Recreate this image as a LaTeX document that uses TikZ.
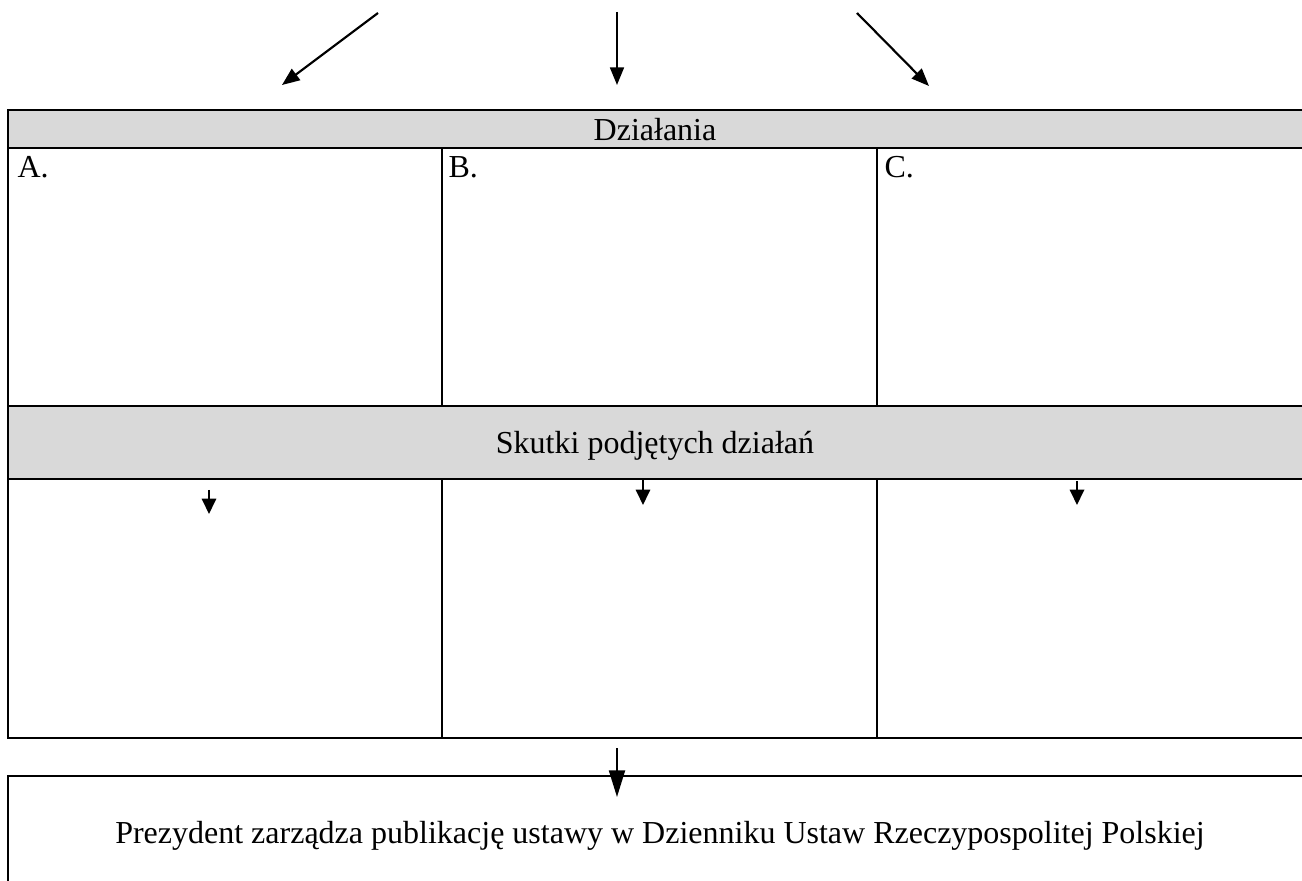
\documentclass[tikz,border=0pt]{standalone}
\usepackage{fontspec}
\setmainfont{Liberation Serif}
\usetikzlibrary{arrows.meta}
\definecolor{hdrgray}{HTML}{D9D9D9}
\newcommand\pxu[1]{#1*0.375pt}
\tikzset{
  box/.style={draw=black, line width=0.95pt, anchor=north west, inner sep=0pt, outer sep=0pt},
  hdr/.style={box, fill=hdrgray},
  txt/.style={anchor=base, inner sep=0pt, font=\fontsize{12}{14}\selectfont},
  ltxt/.style={anchor=base west, inner sep=0pt, font=\fontsize{12}{14}\selectfont},
  toparrow/.style={line width=0.8pt, -{Triangle[length=6.6pt,width=5.2pt]}},
  smallarrow/.style={line width=0.8pt, -{Triangle[length=5.8pt,width=5.4pt]}},
  bigarrow/.style={line width=0.8pt, -{Triangle[length=10pt,width=6pt]}}
}
\begin{document}
\begin{tikzpicture}[x=0.375pt,y=-0.375pt]
\useasboundingbox (0,0) rectangle (1302,881);
\fill[white] (0,0) rectangle (1302,881);
\clip (0,0) rectangle (1302,881);
% header
\node[hdr, minimum width=\pxu{1302}, minimum height=\pxu{38}] (dz) at (8,110) {};
\node[box, minimum width=\pxu{434}, minimum height=\pxu{258}] (ca) at (8,148) {};
\node[box, minimum width=\pxu{435}, minimum height=\pxu{258}] (cb) at (442,148) {};
\node[box, minimum width=\pxu{440}, minimum height=\pxu{258}] (cc) at (877,148) {};
\node[hdr, minimum width=\pxu{1302}, minimum height=\pxu{73}] (sk) at (8,406) {};
\node[box, minimum width=\pxu{434}, minimum height=\pxu{259}] (la) at (8,479) {};
\node[box, minimum width=\pxu{435}, minimum height=\pxu{259}] (lb) at (442,479) {};
\node[box, minimum width=\pxu{440}, minimum height=\pxu{259}] (lc) at (877,479) {};
\node[box, minimum width=\pxu{1302}, minimum height=\pxu{150}] (pr) at (8,776) {};
% texts
\node[txt] (tdz) at (655,141) {Działania};
\node[txt] (tsk) at (655,453) {Skutki podjętych działań};
\node[txt] (tpr) at (660,843) {Prezydent zarządza publikację ustawy w Dzienniku Ustaw Rzeczypospolitej Polskiej};
\node[ltxt] (ta) at (17,178) {A.};
\node[ltxt] (tb) at (448,178) {B.};
\node[ltxt] (tc) at (884,178) {C.};
% top arrows
\coordinate (s1) at (378,13); \coordinate (e1) at (282,85);
\coordinate (s2) at (617,12); \coordinate (e2) at (617,85);
\coordinate (s3) at (857,13); \coordinate (e3) at (929,86);
\draw[toparrow] (s1) -- (e1);
\draw[toparrow] (s2) -- (e2);
\draw[toparrow] (s3) -- (e3);
% small arrows in lower cells
\coordinate (a1s) at (209,490); \coordinate (a1e) at (209,514);
\coordinate (a2s) at (643,480); \coordinate (a2e) at (643,505);
\coordinate (a3s) at (1077,481); \coordinate (a3e) at (1077,505);
\draw[smallarrow] (a1s) -- (a1e);
\draw[smallarrow] (a2s) -- (a2e);
\draw[smallarrow] (a3s) -- (a3e);
% bottom arrow
\coordinate (bs) at (617,748); \coordinate (be) at (617,797);
\draw[bigarrow] (bs) -- (be);
\end{tikzpicture}
\end{document}
